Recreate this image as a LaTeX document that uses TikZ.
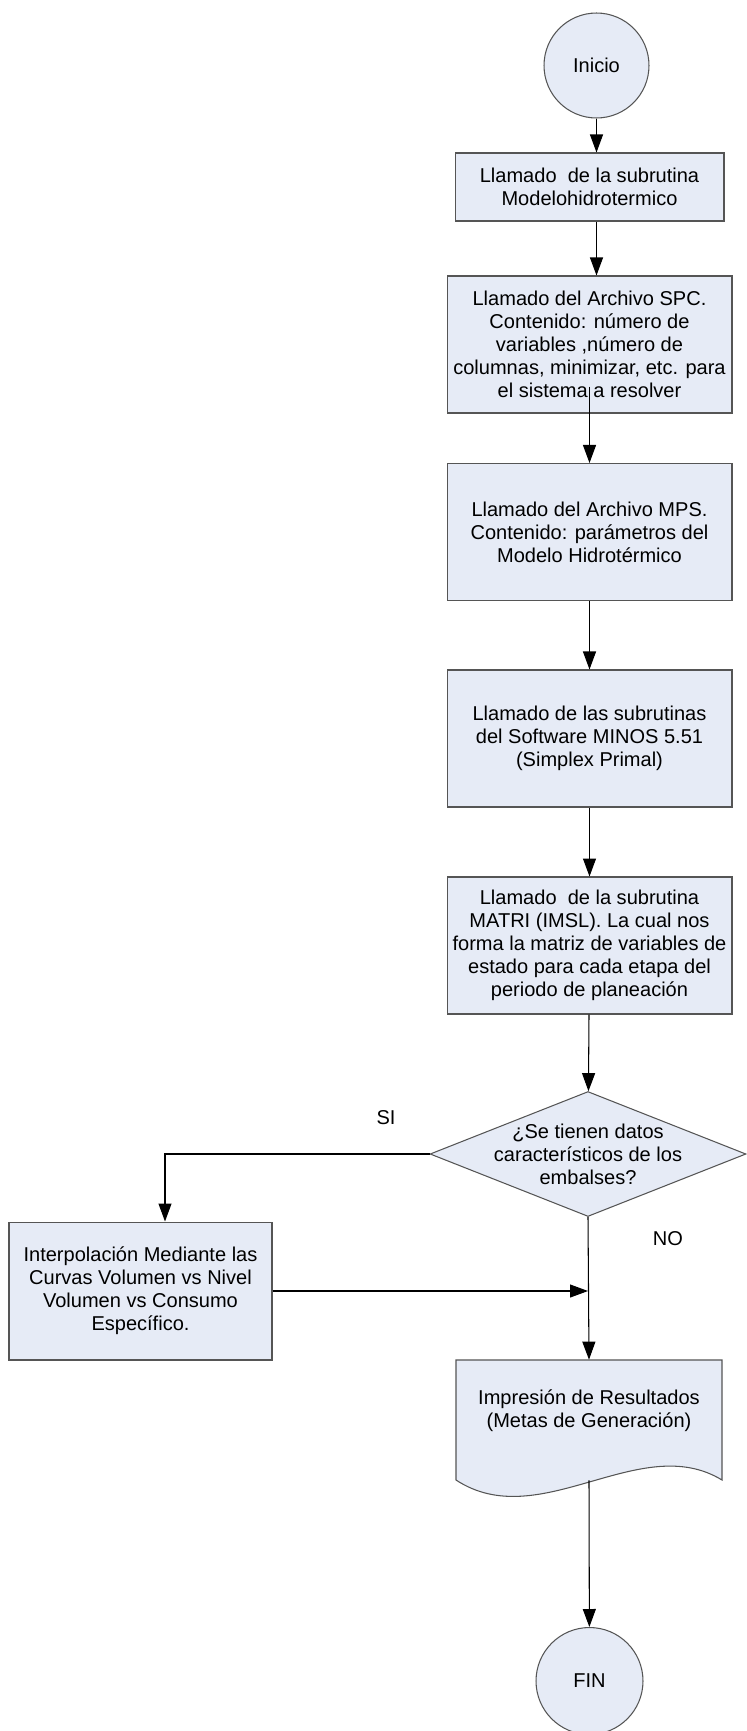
\documentclass[tikz,border=0pt]{standalone}
\usepackage{fontspec}
\setmainfont{Liberation Sans}
\usetikzlibrary{arrows.meta,shapes.geometric}
\definecolor{fondo}{RGB}{230,235,246}
\definecolor{borde}{RGB}{85,85,85}

\begin{document}
\begin{tikzpicture}[x=0.02cm,y=-0.02cm,
        every node/.style={font=\fontsize{11.4}{13.1}\selectfont,align=center},
        caja/.style={draw=borde,fill=fondo,line width=0.6pt,inner sep=0pt,minimum width=5.7cm,minimum height=2.74cm},
        terminal/.style={circle,draw=borde,fill=fondo,line width=0.6pt,inner sep=0pt,minimum size=2.1cm},
        decision/.style={diamond,draw=borde,fill=fondo,line width=0.6pt,inner sep=0pt,minimum width=6.32cm,minimum height=2.5cm},
        flecha/.style={line width=0.6pt,-{Triangle[length=0.36cm,width=0.26cm]}}]

        \useasboundingbox (0,0) rectangle (747,1731);

        \node[terminal] (inicio) at (596.5,65.5) {Inicio};
        \node[caja,minimum width=5.38cm,minimum height=1.36cm] (caja1) at (589.5,187) {Llamado~ de la subrutina\\Modelohidrotermico};
        \node[caja] (caja2) at (589.5,344.5) {Llamado del Archivo SPC.\\Contenido: número de\\variables ,número de\\columnas, minimizar, etc. para\\el sistema a resolver};
        \node[caja] (caja3) at (589.5,532) {Llamado del Archivo MPS.\\Contenido: parámetros del\\Modelo Hidrotérmico};
        \node[caja] (caja4) at (589.5,738.5) {Llamado de las subrutinas\\del Software MINOS 5.51\\(Simplex Primal)};
        \node[caja] (caja5) at (589.5,945.5) {Llamado~ de la subrutina\\MATRI (IMSL). La cual nos\\forma la matriz de variables de\\estado para cada etapa del\\periodo de planeación};

        \node[decision] (dec) at (588,1154) {};
        \node (pregunta) at (dec) {¿Se tienen datos\\característicos de los\\embalses?};

        \node[caja,minimum width=5.26cm,minimum height=2.76cm] (interp) at (140.5,1291) {Interpolación Mediante las\\Curvas Volumen vs Nivel\\Volumen vs Consumo\\Específico.};

        \filldraw[draw=borde,fill=fondo,line width=0.6pt] (456,1360) -- (722,1360) -- (722,1480)
            .. controls (640,1430) and (540,1535) .. (456,1480) -- cycle;
        \node[minimum width=5.32cm,minimum height=2.4cm,inner sep=0pt] (doc) at (589,1420) {};
        \node (doctxt) at (589,1411) {Impresión de Resultados\\(Metas de Generación)};

        \node[terminal,minimum size=2.14cm] (fin) at (589.5,1681) {FIN};

        \node (si) at (386,1118) {SI};
        \node (no) at (668,1239) {NO};

        \draw[flecha] (inicio) -- (inicio |- caja1.north);
        \draw[flecha] (inicio |- caja1.south) -- (inicio |- caja2.north);
        \draw[flecha] (caja2.south) ++(0,-27) -- (caja3.north);
        \foreach \a/\b in {caja3/caja4,caja4/caja5,caja5/dec}
            \draw[flecha] (\a) -- (\b);

        \coordinate (codo) at (165,1154);
        \draw[flecha] (dec.west) -- (codo) -- (codo |- interp.north);
        \coordinate (union) at (dec |- interp.east);
        \draw[flecha] (interp.east) -- (union);
        \draw[flecha] (dec.south) -- (doc.north);
        \draw[flecha] (doc.south) -- (fin);

\end{tikzpicture}
\end{document}
